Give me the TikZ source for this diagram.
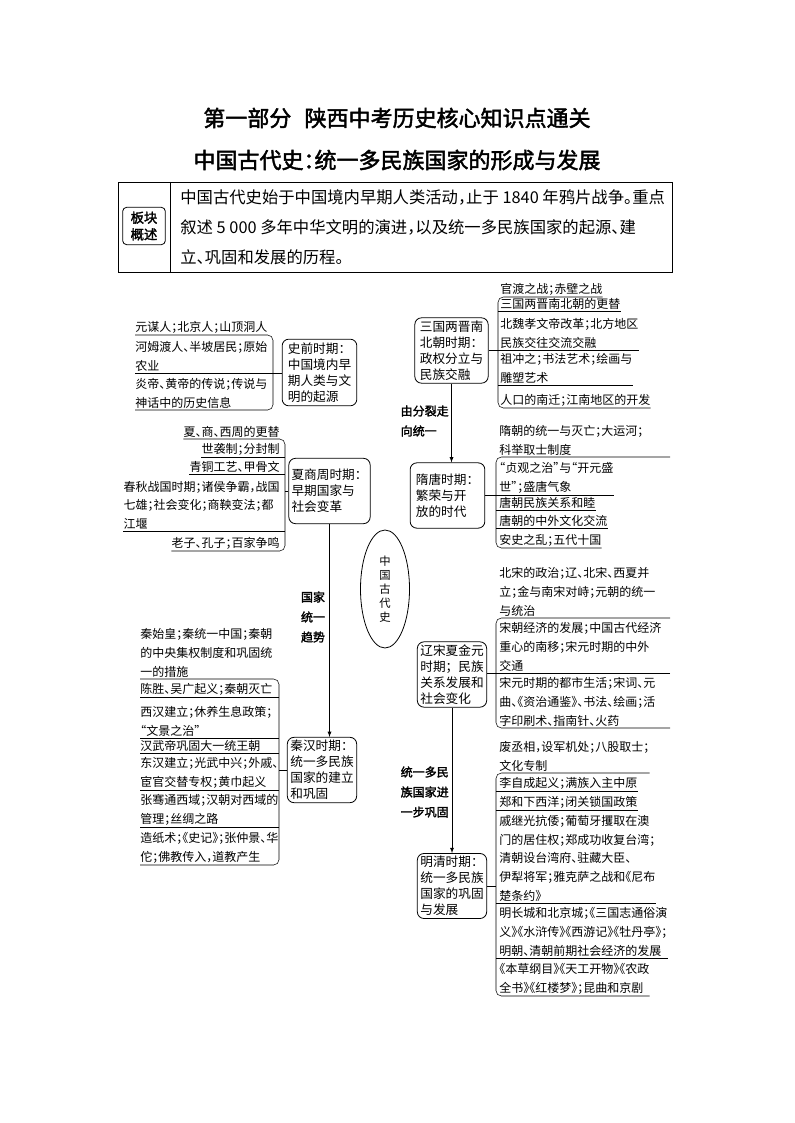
\documentclass[tikz,border=0pt]{standalone}
\usepackage{fontspec}
\newfontfamily\cjk[AutoFakeBold=2]{Noto Sans CJK SC}
\newfontfamily\cjkh[RawFeature=+halt,AutoFakeBold=2]{Noto Sans CJK SC}
\usetikzlibrary{arrows,shapes.geometric}
\pgfdeclarelayer{bg}
\pgfsetlayers{bg,main}
\newcommand\treefont{\cjkh\fontsize{9}{14}\selectfont}
\newcommand\erafont{\cjk\fontsize{9.5}{12}\selectfont}
\begin{document}
\begin{tikzpicture}[x=0.75pt,y=-0.75pt,line width=0.6pt,
  leaf/.style={anchor=south west,inner xsep=0pt,inner ysep=1.2pt,align=left,font=\treefont},
  leafr/.style={leaf,anchor=south east,align=right},
  era/.style={draw,rounded corners=5pt,align=left,inner sep=2pt,font=\erafont},
  brace/.style={rounded corners=4pt},
  flow/.style={-latex},
  tag/.style={align=left,font=\cjkh\bfseries\fontsize{9}{15}\selectfont}]
  \useasboundingbox[fill=white] (0,0) rectangle (794,1123);
  \node[font=\cjkh\bfseries\fontsize{16.5}{20}\selectfont] (title) at (397,118) {第一部分\hspace{0.6em}陕西中考历史核心知识点通关};
  \node[font=\cjkh\bfseries\fontsize{16.5}{20}\selectfont] (subtitle) at (397,160) {中国古代史：统一多民族国家的形成与发展};
  \draw (118,182) rectangle (672,272);
  \draw (170,182) -- (170,272);
  \node[draw,rounded corners=3pt,align=center,minimum width=32pt,minimum height=28pt,inner sep=1pt,
    font=\cjk\bfseries\fontsize{10}{12.5}\selectfont] (tagbox) at (144,226) {板块\\概述};
  \node[anchor=north west,align=left,inner sep=0pt,font=\cjkh\fontsize{12.25}{22.5}\selectfont] (intro) at (180,189)
    {中国古代史始于中国境内早期人类活动，止于 1840 年鸦片战争。重点\\叙述 5 000 多年中华文明的演进，以及统一多民族国家的起源、建\\立、巩固和发展的历程。};

  \node[ellipse,draw,fill=white,minimum width=36.75pt,minimum height=88.5pt,inner sep=0pt,align=center,
    font=\cjk\fontsize{8.5}{10.5}\selectfont] (core) at (385,589) {中\\国\\古\\代\\史};

  \node[era,minimum width=56pt,minimum height=50pt] (shiqian) at (319.5,372.5) {史前时期：\\中国境内早\\期人类与文\\明的起源};
  \node[era,minimum width=56pt,minimum height=49pt] (xsz) at (329.5,491) {夏商周时期：\\早期国家与\\社会变革};
  \node[era,minimum width=52pt,minimum height=49pt] (qinhan) at (322,770) {秦汉时期：\\统一多民族\\国家的建立\\和巩固};
  \node[era,minimum width=55pt,minimum height=49pt] (sanguo) at (451.5,350.5) {三国两晋南\\北朝时期：\\政权分立与\\民族交融};
  \node[era,minimum width=56pt,minimum height=49pt] (suitang) at (447.5,495.5) {隋唐时期：\\繁荣与开\\放的时代};
  \node[era,minimum width=52pt,minimum height=49pt] (liaosong) at (452,674.5) {辽宋夏金元\\时期；民族\\关系发展和\\社会变化};
  \node[era,minimum width=52pt,minimum height=48pt] (mingqing) at (452,886) {明清时期：\\统一多民族\\国家的巩固\\与发展};

  \begin{pgfonlayer}{bg}
  \draw[brace] (shiqian.east) -| ([xshift=-2.25pt]core.center);
  \draw[brace] (xsz.east) -| ([xshift=-6pt]core.center);
  \draw[brace] (qinhan.east) -| ([xshift=-1.5pt]core.center);
  \draw[brace] (sanguo.west) -| ([xshift=3.75pt]core.center);
  \draw[brace] (suitang.west) -| ([xshift=11.25pt]core.center);
  \draw[brace] (liaosong.west) -| ([xshift=13.5pt]core.center);
  \draw[brace] (mingqing.west) -| ([xshift=5.25pt]core.center);
  \end{pgfonlayer}

  \draw[flow] (xsz.south) -- (xsz.south |- qinhan.north);
  \draw[flow] (sanguo.south) -- (sanguo.south |- suitang.north);
  \draw[flow] (liaosong.south) -- (mingqing.north);
  \node[tag,align=center] (trend) at (313,617) {国家\\统一\\趋势};
  \node[tag,anchor=west] (unify) at (396,421) {由分裂走\\向统一};
  \node[tag,anchor=west] (consol) at (396,792) {统一多民\\族国家进\\一步巩固};

  \coordinate (b1) at (273,0);
  \node[leaf] (L1a) at (135,335) {元谋人；北京人；山顶洞人};
  \node[leaf] (L1b) at (135,373) {河姆渡人、半坡居民；原始\\农业};
  \node[leaf] (L1c) at (135,410) {炎帝、黄帝的传说；传说与\\神话中的历史信息};
  \draw[brace] (L1a.south west) -- (L1a.south west -| b1) -- (L1c.south west -| b1) -- (L1c.south west);
  \draw (L1b.south west) -- (L1b.south west -| shiqian.west);

  \coordinate (b2) at (285,0);
  \node[leafr] (L2a) at (280,439) {夏、商、西周的更替};
  \node[leafr] (L2b) at (280,457) {世袭制；分封制};
  \node[leafr] (L2c) at (280,474) {青铜工艺、甲骨文};
  \node[leafr,align=left] (L2d) at (280,531) {春秋战国时期；诸侯争霸，战国\\七雄；社会变化；商鞅变法；都\\江堰};
  \node[leafr] (L2e) at (280,551) {老子、孔子；百家争鸣};
  \draw[brace] (L2a.south west) -- (L2a.south west -| b2) -- (L2e.south west -| b2) -- (L2e.south west);
  \draw (L2b.south west) -- (L2b.south west -| b2);
  \draw (L2c.south west) -- (L2c.south west -| b2);
  \draw (L2d.south west) -- (L2d.south west -| b2);
  \draw (xsz.west) -- (xsz.west -| b2);

  \coordinate (b3) at (279,0);
  \node[leaf] (L3a) at (140,679) {秦始皇；秦统一中国；秦朝\\的中央集权制度和巩固统\\一的措施};
  \node[leaf] (L3b) at (140,697) {陈胜、吴广起义；秦朝灭亡};
  \node[leaf] (L3c) at (140,738) {西汉建立；休养生息政策；\\“文景之治”};
  \node[leaf] (L3d) at (140,753) {汉武帝巩固大一统王朝};
  \node[leaf] (L3e) at (140,790) {东汉建立；光武中兴；外戚、\\宦官交替专权；黄巾起义};
  \node[leaf] (L3f) at (140,827) {张骞通西域；汉朝对西域的\\管理；丝绸之路};
  \node[leaf] (L3g) at (140,865) {造纸术；《史记》；张仲景、华\\佗；佛教传入，道教产生};
  \draw[brace] (L3a.south west) -- (L3a.south west -| b3) -- (L3g.south west -| b3) -- (L3g.south west);
  \foreach \i in {L3b,L3c,L3d,L3e,L3f}
    \draw (\i.south west) -- (\i.south west -| b3);
  \draw (qinhan.west) -- (qinhan.west -| b3);

  \coordinate (b4) at (498,0);
  \node[leaf] (R1a) at (500,297) {官渡之战；赤壁之战};
  \node[leaf] (R1b) at (500,311) {三国两晋南北朝的更替};
  \node[leaf] (R1c) at (500,350) {北魏孝文帝改革；北方地区\\民族交往交流交融};
  \node[leaf] (R1d) at (500,385) {祖冲之；书法艺术；绘画与\\雕塑艺术};
  \node[leaf] (R1e) at (500,408) {人口的南迁；江南地区的开发};
  \draw[brace] (R1a.south east) -- (R1a.south east -| b4) -- (R1e.south east -| b4) -- (R1e.south east);
  \draw (R1b.south east) -- (R1b.south east -| b4);
  \draw (R1c.south east) -- (R1c.south east -| sanguo.east);
  \draw (R1d.south east) -- (R1d.south east -| b4);

  \coordinate (b5) at (496,0);
  \node[leaf,text width=128pt] (R2a) at (499,457) {隋朝的统一与灭亡；大运河；\\科举取士制度};
  \node[leaf] (R2b) at (499,495) {“贞观之治”与“开元盛\\世”；盛唐气象};
  \node[leaf] (R2c) at (499,510) {唐朝民族关系和睦};
  \node[leaf] (R2d) at (499,528) {唐朝的中外文化交流};
  \node[leaf] (R2e) at (499,548) {安史之乱；五代十国};
  \draw[brace] (R2a.south east) -- (R2a.south east -| b5) -- (R2e.south east -| b5) -- (R2e.south east);
  \draw (R2b.south east) -- (R2b.south east -| suitang.east);
  \draw (R2c.south east) -- (R2c.south east -| b5);
  \draw (R2d.south east) -- (R2d.south east -| b5);

  \coordinate (b6) at (496,0);
  \node[leaf,text width=128pt] (R3a) at (499,618) {北宋的政治；辽、北宋、西夏并\\立；金与南宋对峙；元朝的统一\\与统治};
  \node[leaf,text width=128pt] (R3b) at (499,673) {宋朝经济的发展；中国古代经济\\重心的南移；宋元时期的中外\\交通};
  \node[leaf,text width=128pt] (R3c) at (499,728) {宋元时期的都市生活；宋词、元\\曲、《资治通鉴》、书法、绘画；活\\字印刷术、指南针、火药};
  \draw[brace] (R3a.south east) -- (R3a.south east -| b6) -- (R3c.south east -| b6) -- (R3c.south east);
  \draw (R3b.south east) -- (R3b.south east -| liaosong.east);

  \coordinate (b7) at (496,0);
  \node[leaf] (R4a) at (499,773) {废丞相，设军机处；八股取士；\\文化专制};
  \node[leaf] (R4b) at (499,791) {李自成起义；满族入主中原};
  \node[leaf] (R4c) at (499,810) {郑和下西洋；闭关锁国政策};
  \node[leaf] (R4d) at (499,903) {戚继光抗倭；葡萄牙攫取在澳\\门的居住权；郑成功收复台湾；\\清朝设台湾府、驻藏大臣、\\伊犁将军；雅克萨之战和《尼布\\楚条约》};
  \node[leaf] (R4e) at (499,958) {明长城和北京城；《三国志通俗演\\义》《水浒传》《西游记》《牡丹亭》；\\明朝、清朝前期社会经济的发展};
  \node[leaf] (R4f) at (499,996) {《本草纲目》《天工开物》《农政\\全书》《红楼梦》；昆曲和京剧};
  \draw[brace] (R4a.south east) -- (R4a.south east -| b7) -- (R4f.south east -| b7) -- (R4f.south east);
  \foreach \i in {R4b,R4c,R4d,R4e}
    \draw (\i.south east) -- (\i.south east -| b7);
  \draw (mingqing.east) -- (mingqing.east -| b7);
\end{tikzpicture}
\end{document}
